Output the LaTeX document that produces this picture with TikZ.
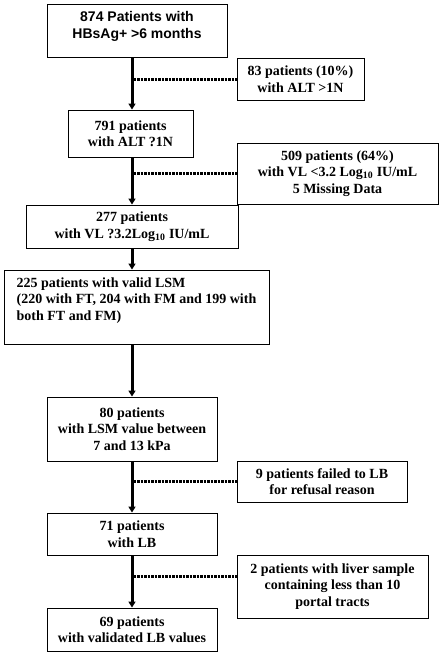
\documentclass[tikz,border=0pt]{standalone}
\usepackage{fontspec}
\setmainfont{Liberation Serif}
\newfontfamily\headfont{Liberation Sans}
\usetikzlibrary{arrows.meta}
\tikzset{
  stage/.style={draw, line width=0.9pt, align=center, inner sep=1pt,
    font=\bfseries\fontsize{14}{16.5}\selectfont},
  flow/.style={line width=3pt, -{Triangle[width=7pt,length=6pt]}},
  drop/.style={line width=3pt, dash pattern=on 2.5pt off 1pt},
}

\begin{document}
\begin{tikzpicture}[x=1pt, y=-1pt]
  \useasboundingbox (0,0) rectangle (443,656);
  \coordinate (spine) at (132,0);
  % main column
  \node[stage, minimum width=180pt, minimum height=53pt,
    font=\headfont\bfseries\fontsize{14}{17}\selectfont] (start) at (137,30.5)
    {874 Patients with\\HBsAg+ >6 months\\[-6pt]\mbox{}};
  \node[stage, minimum width=125pt, minimum height=47pt] (alt) at (130.5,133.5)
    {791 patients\\with ALT ?1N};
  \node[stage, minimum width=212pt, minimum height=43pt] (vl) at (132,226.5)
    {277 patients\\with VL ?3.2Log\textsubscript{10} IU/mL};
  \node[stage, minimum width=265pt, minimum height=74pt, align=left] (lsm) at (136.5,307)
    {225 patients with valid LSM\\(220 with FT, 204 with FM and 199 with\\both FT and FM)\\\mbox{}};
  \node[stage, minimum width=170pt, minimum height=64pt] (range) at (132,429)
    {80 patients\\with LSM value between\\7 and 13 kPa};
  \node[stage, minimum width=170pt, minimum height=42pt] (lb) at (132,534)
    {71 patients\\with LB};
  \node[stage, minimum width=170pt, minimum height=43pt] (valid) at (132,629.5)
    {69 patients\\with validated LB values};
  % excluded
  \node[stage, minimum width=127pt, minimum height=42pt] (exalt) at (300.5,79)
    {83 patients (10\%)\\with ALT >1N};
  \node[stage, minimum width=201pt, minimum height=61pt] (exvl) at (337.5,173.5)
    {509 patients (64\%)\\with VL <3.2 Log\textsubscript{10} IU/mL\\5 Missing Data};
  \node[stage, minimum width=170pt, minimum height=41pt] (exref) at (322,481.5)
    {9 patients failed to LB\\for refusal reason};
  \node[stage, minimum width=191pt, minimum height=63pt] (exlb) at (332.5,586.5)
    {2 patients with liver sample\\containing less than 10\\portal tracts};

  \draw[flow] (start.south -| spine) -- (alt.north -| spine);
  \draw[flow] (alt.south -| spine) -- (vl.north -| spine);
  \draw[flow] (vl.south -| spine) -- (lsm.north -| spine);
  \draw[flow] (lsm.south -| spine) -- (range.north -| spine);
  \draw[flow] (range.south -| spine) -- (lb.north -| spine);
  \draw[flow] (lb.south -| spine) -- (valid.north -| spine);

  \draw[drop] ([xshift=1.5pt]exalt.west -| spine) -- (exalt.west);
  \draw[drop] ([xshift=1.5pt]exvl.west -| spine) -- (exvl.west);
  \draw[drop] ([xshift=1.5pt]exref.west -| spine) -- (exref.west);
  \draw[drop] ([xshift=1.5pt,yshift=10pt]exlb.west -| spine) -- ([yshift=10pt]exlb.west);
\end{tikzpicture}
\end{document}
